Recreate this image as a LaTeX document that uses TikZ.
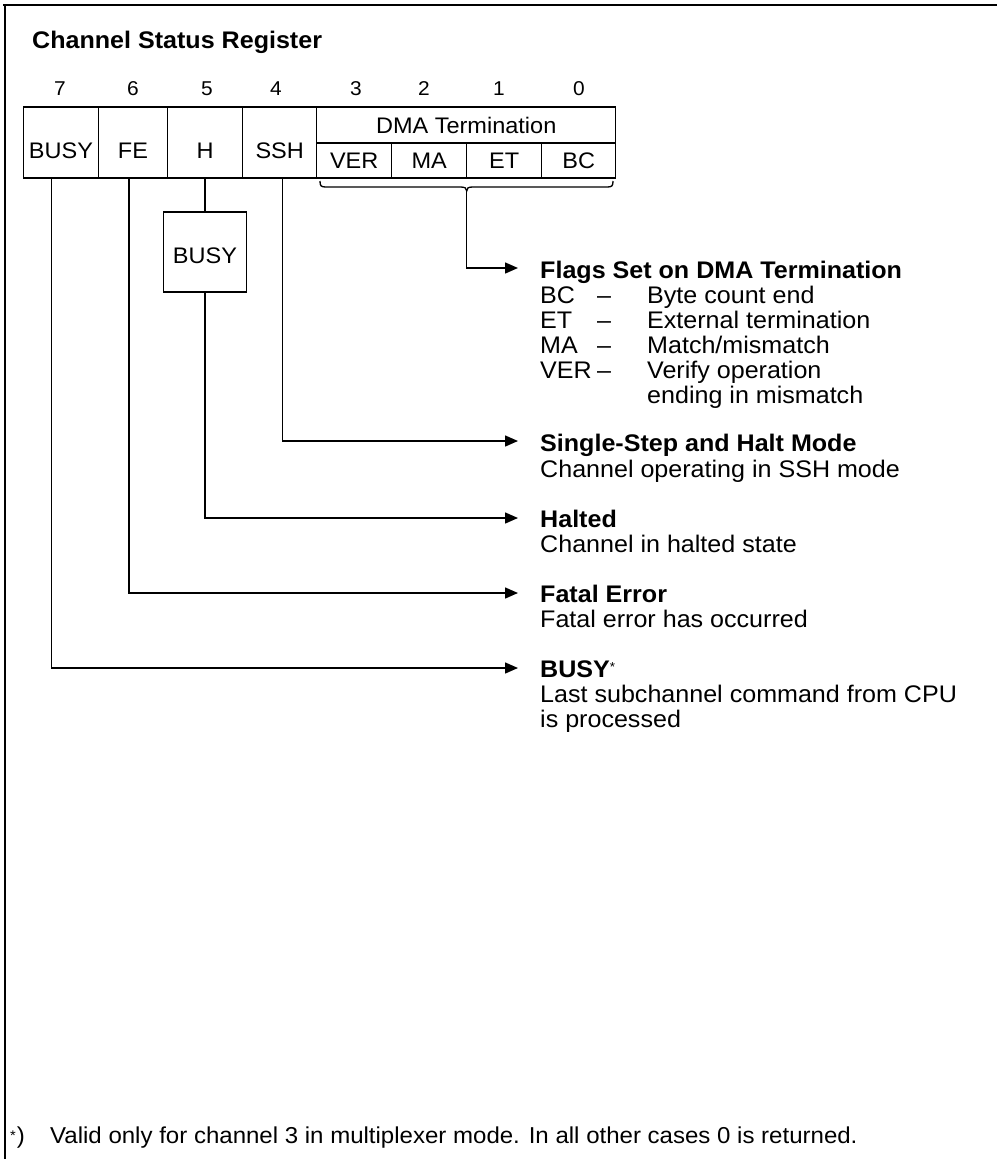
\documentclass[tikz,border=0pt]{standalone}
\usepackage{fontspec}
\setmainfont{Liberation Sans}[FakeStretch=1.045]
\usetikzlibrary{arrows.meta,calc}
\begin{document}
\begin{tikzpicture}[x=1pt,y=-1pt,
  cellbox/.style={draw,line width=1.5pt,rectangle,inner sep=0pt,outer sep=0pt,font=\fontsize{22.5}{25}\selectfont},
  upcell/.style={cellbox,minimum height=71pt,text height=31.5pt,text depth=0pt},
  lowcell/.style={cellbox,minimum height=35pt,text height=16.5pt,text depth=0pt},
  bittxt/.style={anchor=base,inner sep=0pt,font=\fontsize{20}{22}\selectfont},
  head/.style={anchor=base west,inner sep=0pt,font=\fontsize{24}{25}\selectfont\bfseries},
  desc/.style={anchor=base west,inner sep=0pt,font=\fontsize{24}{25}\selectfont},
  conn/.style={line width=1.5pt,-{Triangle[length=13pt,width=11pt]}},
  plainline/.style={line width=1.5pt}
]
\useasboundingbox (0,0) rectangle (997,1159);
% frame
\draw[line width=2pt] (3,5) -- (997,5);
\draw[line width=2pt] (5,5) -- (5,1159);
% title
\node[head] (title) at (32,48) {Channel Status Register};
% bit numbers
\node[bittxt] (b7) at (60,95.7) {7};
\node[bittxt] (b6) at (133,95.7) {6};
\node[bittxt] (b5) at (207,95.7) {5};
\node[bittxt] (b4) at (276,95.7) {4};
\node[bittxt] (b3) at (356,95.7) {3};
\node[bittxt] (b2) at (424,95.7) {2};
\node[bittxt] (b1) at (499,95.7) {1};
\node[bittxt] (b0) at (579,95.7) {0};
% register cells
\node[upcell,minimum width=75.4pt] (cBusy) at (61,142.5) {BUSY};
\node[upcell,minimum width=68.6pt] (cFE) at (133,142.5) {FE};
\node[upcell,minimum width=75.4pt] (cH) at (205,142.5) {H};
\node[upcell,minimum width=74pt] (cSSH) at (279.7,142.5) {SSH};
\node[cellbox,minimum width=299pt,minimum height=36pt,text depth=0pt] (cDMA) at (466.2,125) {DMA Termination};
\node[lowcell,minimum width=75pt] (cVER) at (354.2,160.5) {VER};
\node[lowcell,minimum width=75pt] (cMA) at (429.2,160.5) {MA};
\node[lowcell,minimum width=75pt] (cET) at (504.2,160.5) {ET};
\node[lowcell,minimum width=74pt] (cBC) at (578.7,160.5) {BC};
% sub box
\node[cellbox,minimum width=83.4pt,minimum height=80pt,text height=22.5pt,text depth=0pt] (subBusy) at (205,252) {BUSY};
% brace
\coordinate (braceTip) at (466.7,191);
\draw[line width=1.3pt] (320,181) .. controls (320,186) and (321,187) .. (326,187) -- (460,187)
  .. controls (465,187) and (466.7,188) .. (braceTip)
  .. controls (466.7,188) and (468,187) .. (473,187) -- (607,187)
  .. controls (612,187) and (613,186) .. (613,181);
% right column texts
\node[head] (hFlags) at (540,278) {Flags Set on DMA Termination};
\node[desc] (dFlags) at (540,303) {\begin{tabular}[t]{@{}p{57pt}@{}p{50pt}@{}l@{}}
BC & \textendash & Byte count end\\
ET & \textendash & External termination\\
MA & \textendash & Match/mismatch\\
VER & \textendash & Verify operation\\
 & & ending in mismatch
\end{tabular}};
\node[head] (hSSH) at (540,451) {Single-Step and Halt Mode};
\node[desc] (dSSH) at (540,477) {Channel operating in SSH mode};
\node[head] (hHalt) at (540,527) {Halted};
\node[desc] (dHalt) at (540,552) {Channel in halted state};
\node[head] (hFatal) at (540,602) {Fatal Error};
\node[desc] (dFatal) at (540,627) {Fatal error has occurred};
\node[head] (hBusy) at (540,677) {BUSY\raisebox{6pt}{\fontsize{13}{13}\selectfont\mdseries *}};
\node[desc] (dBusy) at (540,702) {\begin{tabular}[t]{@{}l@{}}
Last subchannel command from CPU\\
is processed
\end{tabular}};
% connectors
\draw[plainline] (cH.south) -- (subBusy.north);
\draw[conn] (braceTip) |- ($(hFlags.base west)+(-22,-10)$);
\draw[conn] ([xshift=3pt]cSSH.south) |- ($(hSSH.base west)+(-22,-10)$);
\draw[conn] (subBusy.south) |- ($(hHalt.base west)+(-22,-9)$);
\draw[conn] ([xshift=-4pt]cFE.south) |- ($(hFatal.base west)+(-22,-9)$);
\draw[conn] ([xshift=-9.3pt]cBusy.south) |- ($(hBusy.base west)+(-22,-9)$);
% footnote
\node[desc,font=\fontsize{23}{25}\selectfont] (foot) at (10,1143) {\makebox[40pt][l]{\raisebox{3pt}{\fontsize{14}{14}\selectfont *}\kern1pt)}Valid only for channel 3 in multiplexer mode. In all other cases 0 is returned.};
\end{tikzpicture}
\end{document}
